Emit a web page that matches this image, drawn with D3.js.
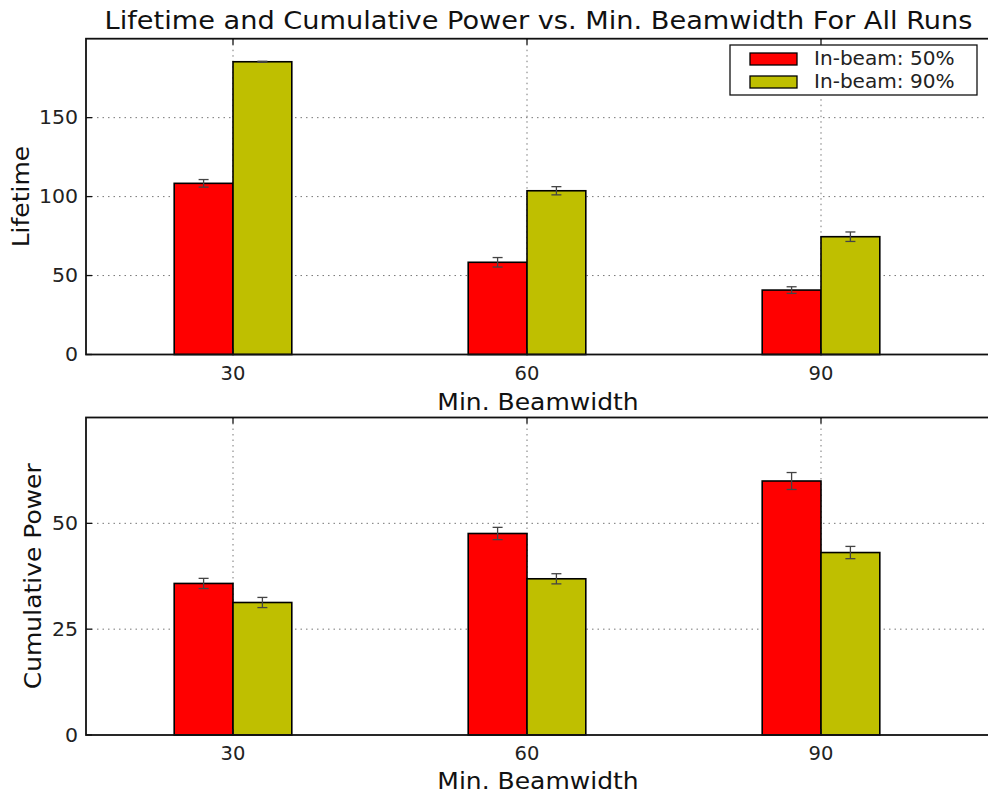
<!DOCTYPE html>
<html>
<head>
<meta charset="utf-8">
<script src="https://cdn.jsdelivr.net/npm/d3@7"></script>
<style>
  html, body { margin: 0; padding: 0; background: #fff; }
  svg { display: block; font-family: "DejaVu Sans", sans-serif; }
</style>
</head>
<body>
<svg id="chart" width="988" height="795"></svg>
<script>
// Beamwidth settings on the x axis
const beamwidths = [30, 60, 90];
const seriesNames = ["In-beam: 50%", "In-beam: 90%"];
const seriesColors = ["#ff0000", "#bfbf00"];

// Lifetime (mean and error) per beamwidth
const lifetime50 = [108.4, 58.4, 40.8];
const lifetime50Err = [2.4, 3.0, 2.1];
const lifetime90 = [185.4, 103.7, 74.6];
const lifetime90Err = [0.3, 2.6, 3.0];

// Cumulative power (mean and error) per beamwidth
const power50 = [35.8, 47.6, 60.0];
const power50Err = [1.2, 1.45, 2.0];
const power90 = [31.3, 36.9, 43.1];
const power90Err = [1.2, 1.2, 1.45];

const lifetimeTicks = [0, 50, 100, 150];
const powerTicks = [0, 25, 50];

const barWidth = 6; // in beamwidth units

const svg = d3.select("#chart");

const x = d3.scaleLinear().domain([15, 108]).range([86, 86 + 93 * 9.8]);

const panels = [
  {
    y: d3.scaleLinear().domain([0, 200]).range([354.5, 38.7]),
    ticks: lifetimeTicks,
    series: [
      { vals: lifetime50, errs: lifetime50Err },
      { vals: lifetime90, errs: lifetime90Err }
    ],
    ylabel: "Lifetime",
    ylabelX: 29,
    xlabelDy: 55,
    legend: true
  },
  {
    y: d3.scaleLinear().domain([0, 75]).range([735, 417.5]),
    ticks: powerTicks,
    series: [
      { vals: power50, errs: power50Err },
      { vals: power90, errs: power90Err }
    ],
    ylabel: "Cumulative Power",
    ylabelX: 41,
    xlabelDy: 53.5,
    legend: false
  }
];

const x0 = x.range()[0], x1 = x.range()[1];

panels.forEach(p => {
  const y = p.y;
  const yb = y.range()[0], yt = y.range()[1];
  const g = svg.append("g");

  // dotted grid
  const grid = g.append("g")
    .attr("stroke", "#777")
    .attr("stroke-width", 1)
    .attr("stroke-dasharray", "1.5,4");
  grid.selectAll("line.gx").data(beamwidths).join("line")
    .attr("x1", d => x(d)).attr("x2", d => x(d))
    .attr("y1", yt).attr("y2", yb);
  grid.selectAll("line.gy").data(p.ticks.filter(t => t > 0)).join("line")
    .attr("x1", x0).attr("x2", x1)
    .attr("y1", d => y(d)).attr("y2", d => y(d));

  // bars
  p.series.forEach((s, si) => {
    const rows = beamwidths.map((b, i) => ({ b, v: s.vals[i], e: s.errs[i] }));
    const left = b => (si === 0 ? b - barWidth : b);
    g.append("g").selectAll("rect").data(rows).join("rect")
      .attr("x", d => x(left(d.b)))
      .attr("width", d => x(left(d.b) + barWidth) - x(left(d.b)))
      .attr("y", d => y(d.v))
      .attr("height", d => y(0) - y(d.v))
      .attr("fill", seriesColors[si])
      .attr("stroke", "#000")
      .attr("stroke-width", 1.6);

    // error bars
    const eg = g.append("g").attr("stroke", "#444").attr("stroke-width", 1.3);
    rows.forEach(d => {
      const cx = x(left(d.b) + barWidth / 2);
      eg.append("line").attr("x1", cx).attr("x2", cx)
        .attr("y1", y(d.v + d.e)).attr("y2", y(d.v - d.e));
      [d.v + d.e, d.v - d.e].forEach(vv => {
        eg.append("line").attr("x1", cx - 5).attr("x2", cx + 5)
          .attr("y1", y(vv)).attr("y2", y(vv));
      });
    });
  });

  // spines
  g.append("rect")
    .attr("x", x0).attr("y", yt)
    .attr("width", x1 - x0).attr("height", yb - yt)
    .attr("fill", "none").attr("stroke", "#111").attr("stroke-width", 1.8);

  // inward ticks on left, top and bottom
  const tk = g.append("g").attr("stroke", "#111").attr("stroke-width", 1.3);
  p.ticks.forEach(t => {
    tk.append("line").attr("x1", x0).attr("x2", x0 + 6).attr("y1", y(t)).attr("y2", y(t));
  });
  beamwidths.forEach(b => {
    tk.append("line").attr("x1", x(b)).attr("x2", x(b)).attr("y1", yt).attr("y2", yt + 6);
    tk.append("line").attr("x1", x(b)).attr("x2", x(b)).attr("y1", yb).attr("y2", yb - 6);
  });

  // tick labels
  g.append("g").selectAll("text").data(p.ticks).join("text")
    .attr("transform", d => `translate(78,${y(d)}) scale(1.05,1)`)
    .attr("text-anchor", "end").attr("dominant-baseline", "central")
    .attr("font-size", 19.5).attr("fill", "#222")
    .text(d => d);
  g.append("g").selectAll("text").data(beamwidths).join("text")
    .attr("x", d => x(d)).attr("y", yb + 25)
    .attr("text-anchor", "middle")
    .attr("font-size", 19.5).attr("fill", "#222")
    .text(d => d);

  // axis labels
  g.append("text")
    .attr("transform", `translate(538,${yb + p.xlabelDy}) scale(1.087,1)`)
    .attr("text-anchor", "middle")
    .attr("font-size", 23).attr("fill", "#111")
    .text("Min. Beamwidth");
  g.append("text")
    .attr("transform", `translate(${p.ylabelX},${(yt + yb) / 2}) rotate(-90) scale(1.086,1)`)
    .attr("text-anchor", "middle")
    .attr("font-size", 23).attr("fill", "#111")
    .text(p.ylabel);

  // legend
  if (p.legend) {
    const lg = g.append("g");
    lg.append("rect")
      .attr("x", 730).attr("y", 45).attr("width", 247).attr("height", 50)
      .attr("fill", "#fff").attr("stroke", "#111").attr("stroke-width", 1.3);
    seriesNames.forEach((name, i) => {
      const cy = 59 + i * 23;
      lg.append("rect")
        .attr("x", 750).attr("y", cy - 6).attr("width", 47).attr("height", 12)
        .attr("fill", seriesColors[i]).attr("stroke", "#000").attr("stroke-width", 1.3);
      lg.append("text")
        .attr("transform", `translate(814,${cy}) scale(1.03,1)`)
        .attr("dominant-baseline", "central")
        .attr("font-size", 19.5).attr("fill", "#222")
        .text(name);
    });
  }
});

// title
svg.append("text")
  .attr("transform", "translate(538.5,29) scale(1.133,1)")
  .attr("text-anchor", "middle")
  .attr("font-size", 24).attr("fill", "#111")
  .text("Lifetime and Cumulative Power vs. Min. Beamwidth For All Runs");
</script>
</body>
</html>
